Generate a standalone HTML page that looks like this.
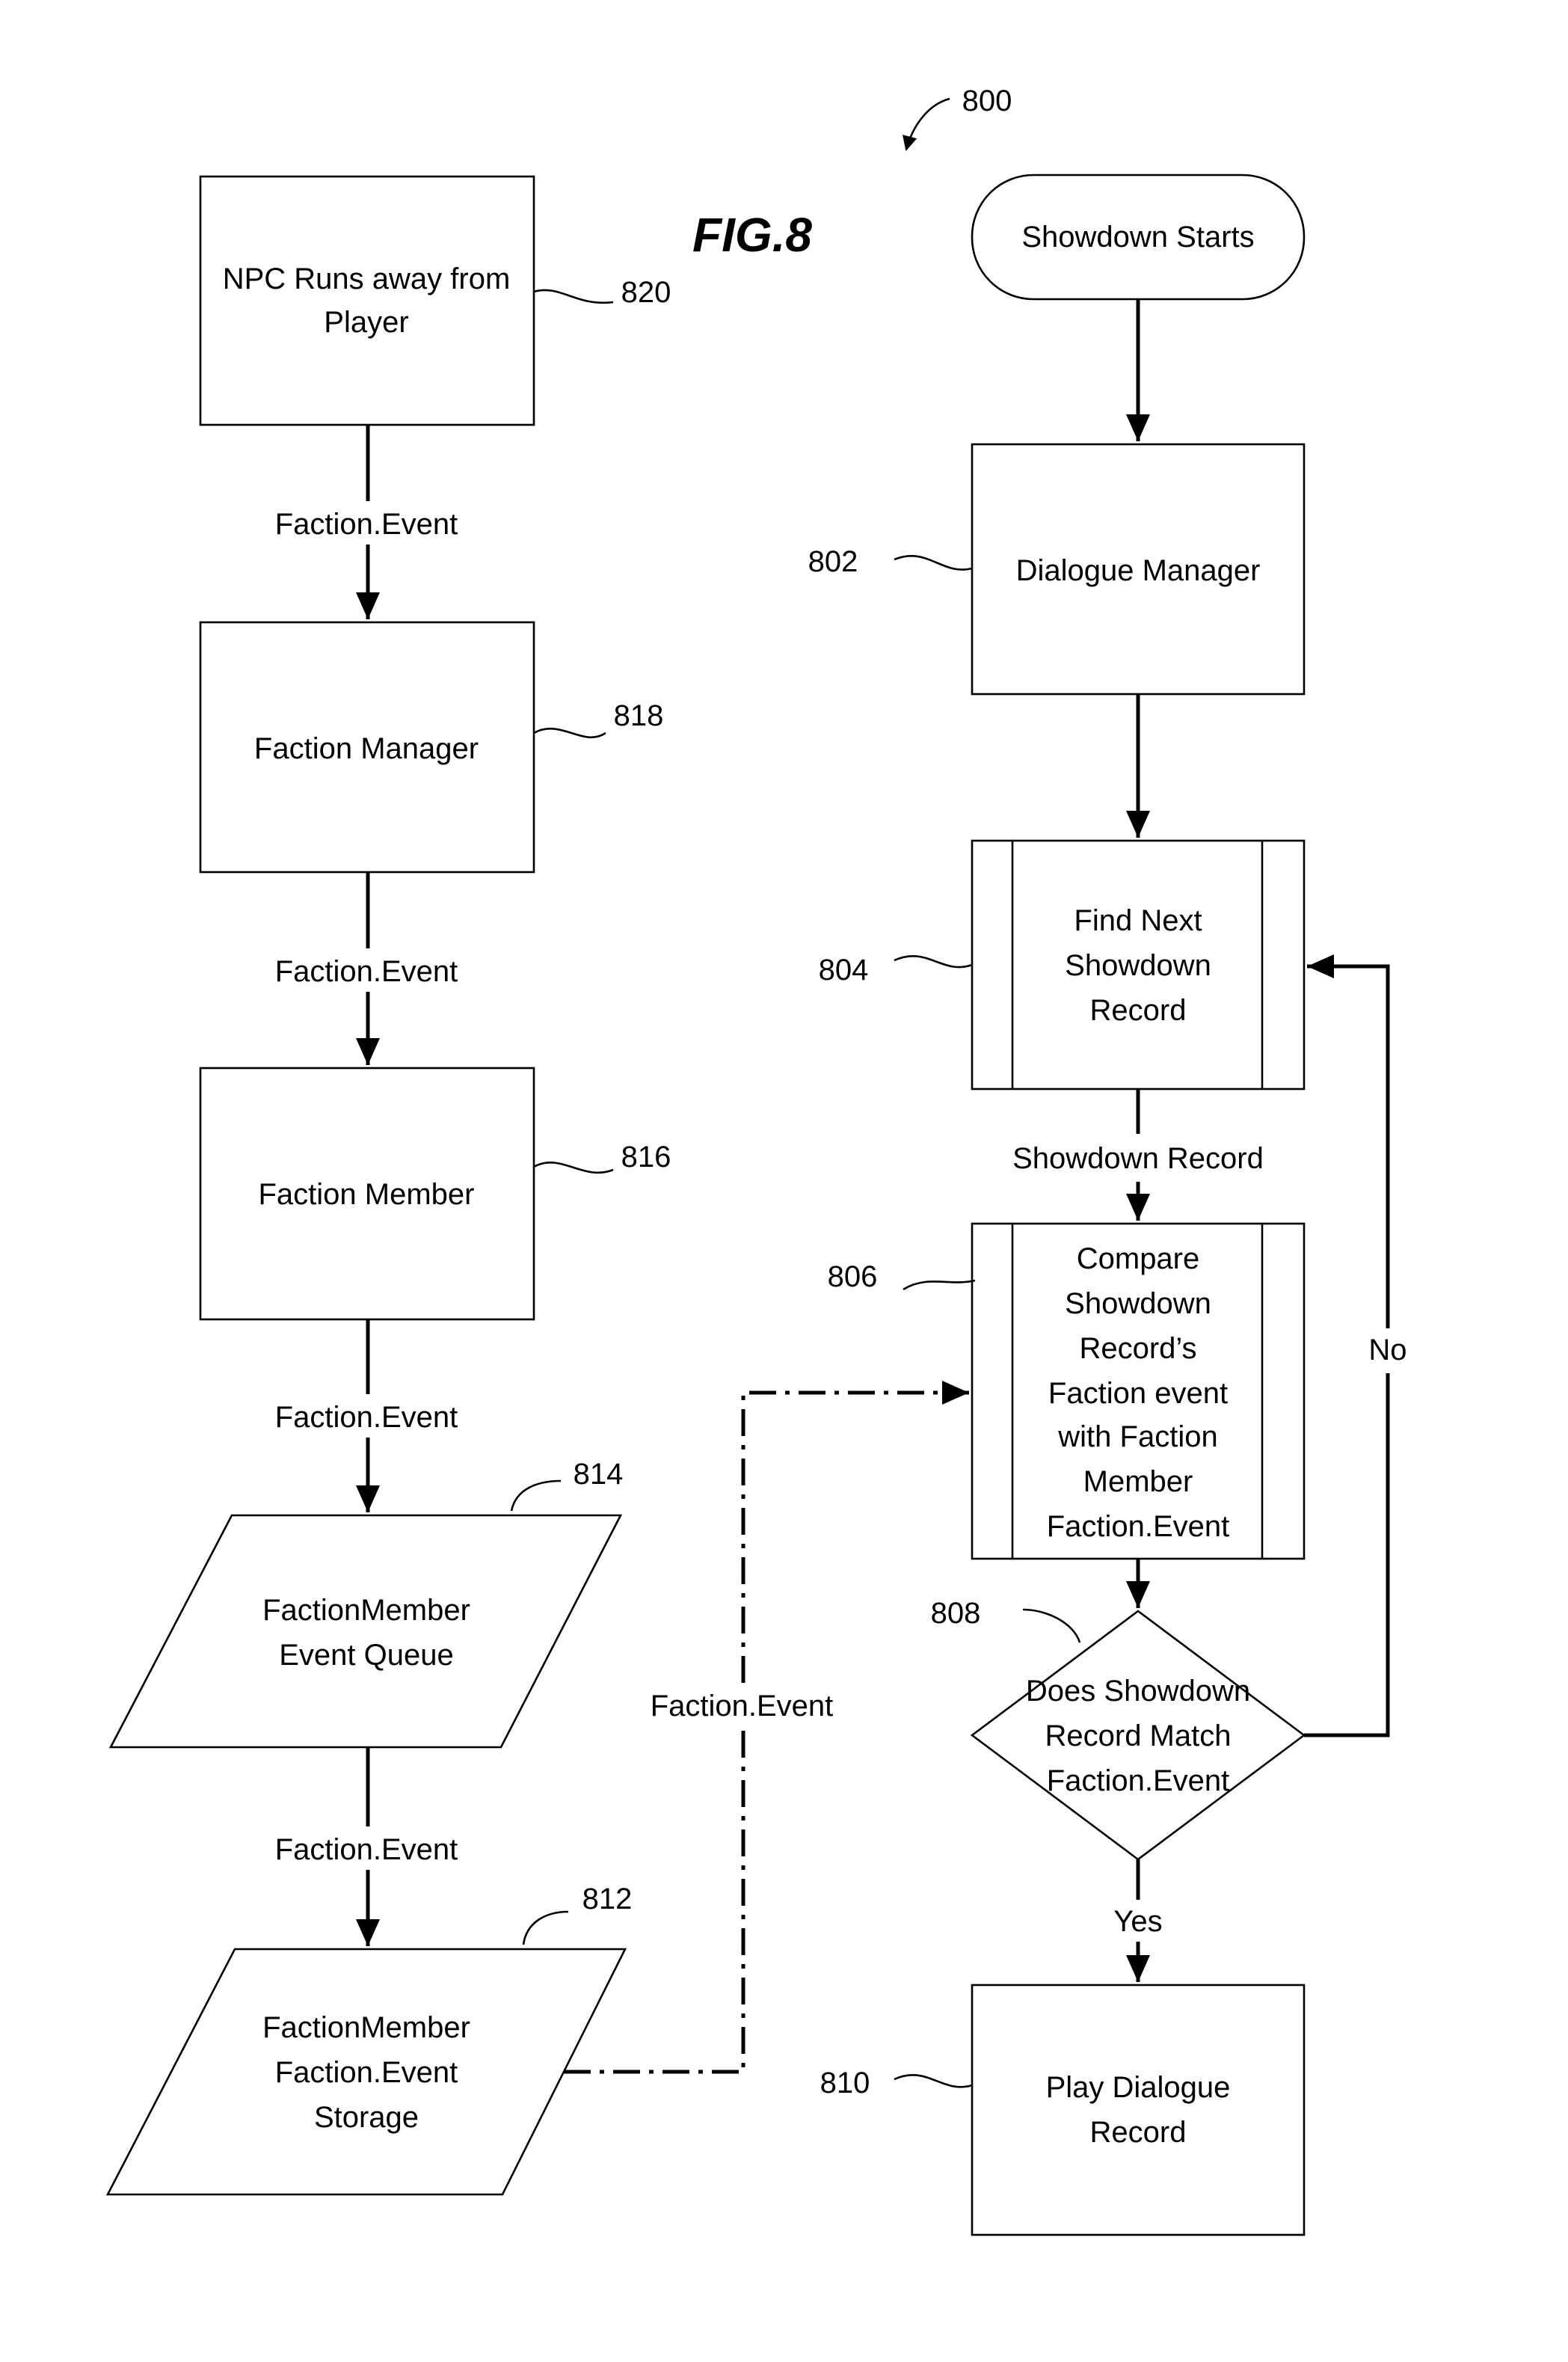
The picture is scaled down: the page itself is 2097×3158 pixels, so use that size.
<!DOCTYPE html>
<html><head><meta charset="utf-8"><style>html,body{margin:0;padding:0;background:#fff}svg{display:block}</style></head>
<body>
<svg width="2097" height="3158" viewBox="0 0 1048.5 1579" xmlns="http://www.w3.org/2000/svg" font-family="Liberation Sans, sans-serif" font-size="20">
<defs><marker id="a" markerWidth="10" markerHeight="10" refX="9" refY="5" orient="auto" markerUnits="userSpaceOnUse" viewBox="0 0 10 10"><path d="M0,0 L10,5 L0,10 z" fill="#000"/></marker>
<marker id="b" markerWidth="20" markerHeight="20" refX="18" refY="10" orient="auto" markerUnits="userSpaceOnUse" viewBox="0 0 20 20"><path d="M0,2 L18,10 L0,18 z" fill="#000"/></marker></defs>
<g fill="none" stroke="#000" stroke-width="1.3">
<rect x="134" y="118" width="223" height="166"/>
<rect x="134" y="416" width="223" height="167"/>
<rect x="134" y="714" width="223" height="168"/>
<polygon points="155,1013 415,1013 335,1168 74,1168"/>
<polygon points="157,1303 418,1303 336,1467 72,1467"/>
<rect x="650" y="117" width="222" height="83" rx="41"/>
<rect x="650" y="297" width="222" height="167"/>
<rect x="650" y="562" width="222" height="166"/>
<line x1="677" y1="562" x2="677" y2="728"/><line x1="844" y1="562" x2="844" y2="728"/>
<rect x="650" y="818" width="222" height="224"/>
<line x1="677" y1="818" x2="677" y2="1042"/><line x1="844" y1="818" x2="844" y2="1042"/>
<polygon points="761,1077 872,1160 761,1243 650,1160"/>
<rect x="650" y="1327" width="222" height="167"/>
<path d="M357,195 C375,190 385,205 410,202"/>
<path d="M357,490 C375,480 390,500 405,490"/>
<path d="M357,780 C375,770 390,790 410,782"/>
<path d="M342,1010 C345,995 360,990 375,990"/>
<path d="M350,1300 C352,1285 365,1278 380,1278"/>
<path d="M598,374 C620,365 630,385 650,380"/>
<path d="M598,642 C620,632 630,652 650,645"/>
<path d="M604,862 C620,852 635,860 652,856"/>
<path d="M684,1076 C700,1076 718,1085 722,1098"/>
<path d="M598,1390 C620,1380 630,1400 650,1394"/>
<path d="M635,66 C620,70 610,85 606,100" marker-end="url(#a)"/>
</g>
<g stroke="#000" stroke-width="2.5" fill="none">
<line x1="246" y1="284" x2="246" y2="335"/><line x1="246" y1="364" x2="246" y2="414" marker-end="url(#b)"/>
<line x1="246" y1="583" x2="246" y2="634"/><line x1="246" y1="663" x2="246" y2="712" marker-end="url(#b)"/>
<line x1="246" y1="882" x2="246" y2="932"/><line x1="246" y1="961" x2="246" y2="1011" marker-end="url(#b)"/>
<line x1="246" y1="1168" x2="246" y2="1221"/><line x1="246" y1="1250" x2="246" y2="1301" marker-end="url(#b)"/>
<line x1="761" y1="200" x2="761" y2="295" marker-end="url(#b)"/>
<line x1="761" y1="464" x2="761" y2="560" marker-end="url(#b)"/>
<line x1="761" y1="728" x2="761" y2="758"/><line x1="761" y1="790" x2="761" y2="816" marker-end="url(#b)"/>
<line x1="761" y1="1042" x2="761" y2="1075" marker-end="url(#b)"/>
<line x1="761" y1="1243" x2="761" y2="1270"/><line x1="761" y1="1298" x2="761" y2="1325" marker-end="url(#b)"/>
<polyline points="872,1160 928,1160 928,918"/><polyline points="928,888 928,646 874,646" marker-end="url(#b)"/>
<polyline points="377,1385 497,1385 497,1155" stroke-dasharray="18,6,3,6"/>
<polyline points="497,1125 497,931 648,931" stroke-dasharray="18,6,3,6" marker-end="url(#b)"/>
</g>
<g text-anchor="middle" fill="#000">
<text x="245" y="193">NPC Runs away from</text><text x="245" y="222">Player</text>
<text x="245" y="507">Faction Manager</text>
<text x="245" y="805">Faction Member</text>
<text x="245" y="1083">FactionMember</text><text x="245" y="1113">Event Queue</text>
<text x="245" y="1362">FactionMember</text><text x="245" y="1392">Faction.Event</text><text x="245" y="1422">Storage</text>
<text x="245" y="357">Faction.Event</text><text x="245" y="656">Faction.Event</text><text x="245" y="954">Faction.Event</text><text x="245" y="1243">Faction.Event</text>
<text x="496" y="1147">Faction.Event</text>
<text x="761" y="165">Showdown Starts</text>
<text x="761" y="388">Dialogue Manager</text>
<text x="761" y="622">Find Next</text><text x="761" y="652">Showdown</text><text x="761" y="682">Record</text>
<text x="761" y="781">Showdown Record</text>
<text x="761" y="848">Compare</text><text x="761" y="878">Showdown</text><text x="761" y="908">Record’s</text><text x="761" y="938">Faction event</text><text x="761" y="967">with Faction</text><text x="761" y="997">Member</text><text x="761" y="1027">Faction.Event</text>
<text x="761" y="1137">Does Showdown</text><text x="761" y="1167">Record Match</text><text x="761" y="1197">Faction.Event</text>
<text x="761" y="1291">Yes</text><text x="928" y="909">No</text>
<text x="761" y="1402">Play Dialogue</text><text x="761" y="1432">Record</text>
<text x="432" y="202">820</text><text x="427" y="485">818</text><text x="432" y="780">816</text><text x="400" y="992">814</text><text x="406" y="1276">812</text>
<text x="557" y="382">802</text><text x="564" y="655">804</text><text x="570" y="860">806</text><text x="639" y="1085">808</text><text x="565" y="1399">810</text>
<text x="660" y="74">800</text>
<text x="503" y="168" font-size="32" font-weight="bold" font-style="italic">FIG.8</text>
</g>
</svg>
</body></html>
